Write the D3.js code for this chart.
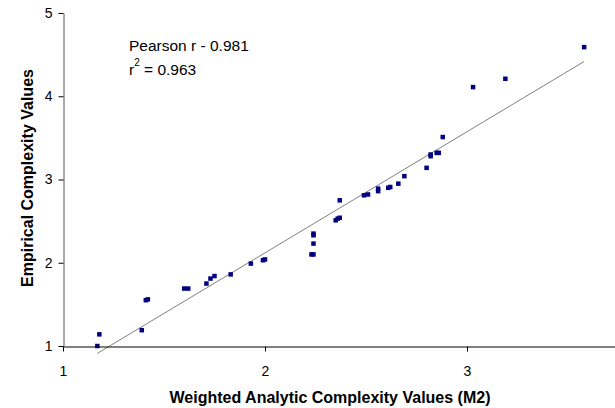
<!DOCTYPE html>
<html>
<head>
<meta charset="utf-8">
<script src="https://cdn.jsdelivr.net/npm/d3@7"></script>
<style>
  body { margin: 0; background: #fff; }
  svg { display: block; font-family: "Liberation Sans", Arial, sans-serif; }
</style>
</head>
<body>
<svg id="chart" width="615" height="408"></svg>
<script>
// weighted analytic complexity (M2) vs empirical complexity
const xValues = [1.17, 1.18, 1.39, 1.41, 1.42, 1.60, 1.62, 1.71, 1.73, 1.75,
  1.83, 1.93, 1.99, 2.00, 2.23, 2.24, 2.24, 2.24, 2.24, 2.35,
  2.36, 2.37, 2.37, 2.49, 2.51, 2.56, 2.56, 2.61, 2.62, 2.66,
  2.69, 2.80, 2.82, 2.82, 2.85, 2.86, 2.88, 3.03, 3.19, 3.58];
const yValues = [1.00, 1.14, 1.19, 1.55, 1.56, 1.69, 1.69, 1.75, 1.81, 1.84,
  1.86, 1.99, 2.03, 2.04, 2.10, 2.10, 2.23, 2.33, 2.35, 2.51,
  2.53, 2.54, 2.75, 2.81, 2.82, 2.86, 2.89, 2.90, 2.91, 2.95,
  3.04, 3.14, 3.28, 3.30, 3.32, 3.32, 3.51, 4.11, 4.21, 4.59];

const xTicks = [1, 2, 3];
const yTicks = [1, 2, 3, 4, 5];

// linear trend line
const trendSlope = 1.455;
const trendIntercept = -0.791;

const pearsonText = "Pearson r - 0.981";
const r2Value = "0.963";

const svg = d3.select("#chart");

const x = d3.scaleLinear().domain([1, 4]).range([63, 669]);
const y = d3.scaleLinear().domain([1, 5]).range([346, 13]);

const points = xValues.map((v, i) => ({ x: v, y: yValues[i] }));

// trend line
const xMin = d3.min(xValues), xMax = d3.max(xValues);
svg.append("line")
  .attr("x1", x(xMin)).attr("y1", y(trendSlope * xMin + trendIntercept))
  .attr("x2", x(xMax)).attr("y2", y(trendSlope * xMax + trendIntercept))
  .attr("stroke", "#808080")
  .attr("stroke-width", 1);

// markers
const m = 4.5;
svg.append("g")
  .selectAll("rect")
  .data(points)
  .enter()
  .append("rect")
  .attr("x", d => x(d.x) - m / 2)
  .attr("y", d => y(d.y) - m / 2)
  .attr("width", m)
  .attr("height", m)
  .attr("fill", "#000080");

// axes
const fmt = d3.format("d");
const xAxis = svg.append("g")
  .attr("transform", "translate(0,346.5)")
  .call(d3.axisBottom(x).tickValues(xTicks).tickFormat(fmt)
    .tickSize(5).tickSizeOuter(0).tickPadding(15));

const yAxis = svg.append("g")
  .attr("transform", "translate(63.5,0)")
  .call(d3.axisLeft(y).tickValues(yTicks).tickFormat(fmt)
    .tickSize(5).tickSizeOuter(0).tickPadding(6));

[xAxis, yAxis].forEach(g => {
  g.selectAll("path, line").attr("stroke", "#000");
  g.selectAll("text")
    .attr("fill", "#000")
    .style("font-size", "14px")
    .style("font-family", "\"Liberation Sans\", Arial, sans-serif");
});
yAxis.select(".domain").attr("stroke", "#555");

// axis titles
svg.append("text")
  .attr("x", 330)
  .attr("y", 403)
  .attr("text-anchor", "middle")
  .style("font-size", "16px")
  .style("font-weight", "bold")
  .text("Weighted Analytic Complexity Values (M2)");

svg.append("text")
  .attr("transform", "translate(33,178) rotate(-90)")
  .attr("text-anchor", "middle")
  .style("font-size", "16px")
  .style("font-weight", "bold")
  .text("Empirical Complexity Values");

// annotation
svg.append("text")
  .attr("x", 129)
  .attr("y", 51)
  .style("font-size", "15.5px")
  .text(pearsonText);

const r2 = svg.append("text")
  .attr("x", 129)
  .attr("y", 75)
  .style("font-size", "15.5px");
r2.append("tspan").text("r");
r2.append("tspan").attr("dy", -9).style("font-size", "10px").text("2");
r2.append("tspan").attr("dy", 9).text(" = " + r2Value);
</script>
</body>
</html>
